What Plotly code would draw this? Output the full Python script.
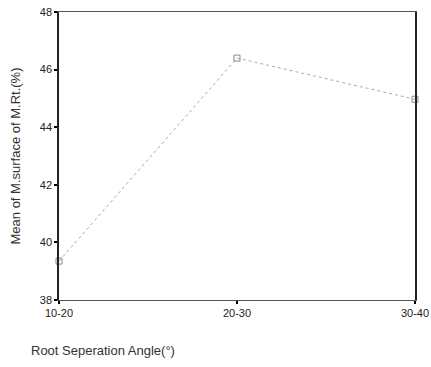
import plotly.graph_objects as go

categories = ["10-20", "20-30", "30-40"]
values = [39.35, 46.4, 44.97]
y_ticks = [38, 40, 42, 44, 46, 48]

fig = go.Figure()
fig.add_trace(go.Scatter(
    x=categories, y=values, mode="lines+markers",
    line=dict(color="#aaaaaa", width=1, dash="dot"),
    marker=dict(symbol="square-open", size=6, color="#8a8a8a", line=dict(width=1)),
    cliponaxis=False, showlegend=False,
))

fig.update_layout(
    width=431, height=367,
    margin=dict(l=59, r=16, t=12, b=67, autoexpand=False),
    paper_bgcolor="white", plot_bgcolor="white",
    font=dict(family="Liberation Sans, Arial", size=11, color="#222"),
    xaxis=dict(
        type="category", range=[0, 2], showgrid=False, zeroline=False,
        showline=True, linecolor="#555", linewidth=1, mirror=True,
        ticks="outside", ticklen=3, tickwidth=2, tickcolor="#000",
        tickfont=dict(size=11, color="#222"), automargin=False,
    ),
    yaxis=dict(
        range=[38, 48], tickvals=y_ticks, showgrid=False, zeroline=False,
        showline=True, linecolor="#222", linewidth=1.5, mirror=True,
        ticks="outside", ticklen=3, tickwidth=2, tickcolor="#000",
        tickfont=dict(size=11, color="#222"), automargin=False,
    ),
    annotations=[
        dict(
            text="Root Seperation Angle(°)", xref="paper", yref="paper",
            x=-0.083, y=-0.175, xanchor="left", yanchor="middle", showarrow=False,
            font=dict(size=13, color="#333"),
        ),
        dict(
            text="Mean of M.surface of M.Rt.(%)", xref="paper", yref="paper",
            x=-0.125, y=0.5, xanchor="center", yanchor="middle", showarrow=False,
            textangle=-90, font=dict(size=13, color="#333"),
        ),
    ],
)

fig.write_html("out.html", config={"displayModeBar": False},
               post_script="document.body.style.margin='0px';")
